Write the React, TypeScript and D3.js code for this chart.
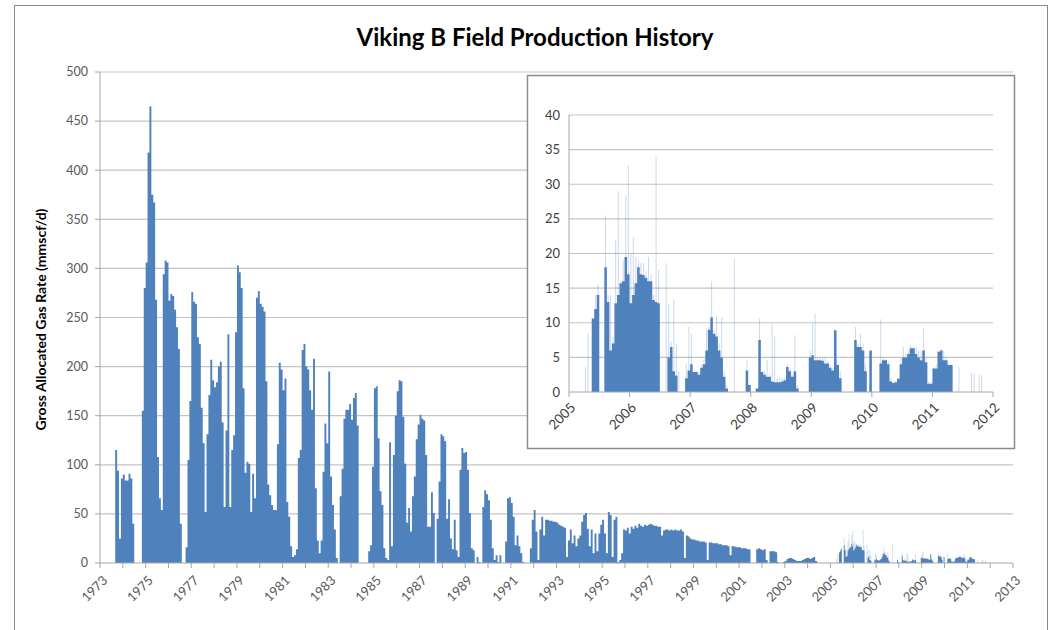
import React, { useEffect } from 'react';
import * as d3 from 'd3';

// ---------- text ----------
const CHART_TITLE = 'Viking B Field Production History';
const Y_AXIS_TITLE = 'Gross Allocated Gas Rate (mmscf/d)';

// ---------- ticks ----------
const mainYTicks = [0, 50, 100, 150, 200, 250, 300, 350, 400, 450, 500];
const mainXTickYears = d3.range(1973, 2014);
const mainXLabelYears = [1973, 1975, 1977, 1979, 1981, 1983, 1985, 1987, 1989, 1991, 1993, 1995, 1997, 1999, 2001, 2003, 2005, 2007, 2009, 2011, 2013];
const insetYTicks = [0, 5, 10, 15, 20, 25, 30, 35, 40];
const insetXLabelYears = [2005, 2006, 2007, 2008, 2009, 2010, 2011, 2012];

// ---------- data ----------
// Monthly gas rate (mmscf/d), Sep 1973 .. Mar 1995
const earlyStartYear = 1973 + 8 / 12;
const earlyMonthlyRates = [
  115, 94, 25, 86, 90, 84, 84, 91, 86, 40,
  0, 0, 0, 0, 155, 280, 306, 418, 465, 375,
  367, 268, 108, 66, 54, 294, 308, 306, 267, 274,
  272, 258, 240, 218, 40, 0, 0, 16, 105, 165,
  276, 266, 264, 230, 223, 158, 122, 52, 131, 171,
  207, 186, 179, 184, 200, 205, 143, 57, 135, 233,
  57, 115, 130, 235, 303, 296, 280, 178, 92, 103,
  101, 52, 91, 66, 270, 277, 264, 261, 256, 185,
  80, 69, 59, 54, 54, 121, 204, 197, 176, 188,
  62, 47, 17, 6, 8, 14, 107, 115, 217, 223,
  200, 197, 176, 156, 208, 76, 23, 10, 23, 93,
  142, 122, 195, 88, 59, 34, 5, 0, 68, 96,
  147, 156, 156, 162, 146, 168, 173, 140, 0, 0,
  0, 0, 0, 12, 18, 98, 178, 180, 127, 73,
  59, 15, 5, 3, 123, 17, 110, 150, 175, 186,
  185, 149, 101, 41, 56, 32, 68, 88, 126, 141,
  151, 147, 145, 110, 37, 37, 72, 51, 0, 45,
  83, 131, 129, 124, 45, 65, 25, 14, 44, 13,
  6, 95, 117, 112, 113, 95, 51, 15, 13, 0,
  6, 1, 0, 57, 74, 70, 64, 44, 15, 3,
  8, 1, 8, 0, 0, 22, 66, 67, 61, 47,
  18, 28, 17, 10, 1, 0, 0, 0, 15, 44,
  54, 32, 3, 34, 47, 28, 44, 44, 43, 43,
  42, 42, 41, 39, 38, 37, 36, 6, 23, 34,
  20, 28, 17, 25, 28, 42, 49, 51, 35, 17,
  34, 10, 30, 12, 30, 39, 44, 30, 10,
];

// Monthly gas rate (mmscf/d), Apr 1995 .. Dec 2004
const lateStartYear = 1995 + 3 / 12;
const lateMonthlyRates = [
  52, 49, 6, 44, 47, 1, 3, 10, 34,
  33, 36, 30, 37, 35, 38, 36, 40, 38, 37, 39, 38,
  39, 40, 39, 38, 38, 37, 37, 28, 33, 34, 34, 33,
  34, 33, 34, 33, 33, 34, 32, 5, 28, 27, 25, 24,
  24, 23, 23, 22, 22, 22, 21, 3, 21, 21, 20, 20,
  20, 19, 19, 18, 18, 18, 17, 8, 17, 17, 16, 16,
  16, 15, 15, 15, 14, 14, 0, 0, 0, 14, 15, 14,
  13, 14, 3, 0, 12, 12, 12, 11, 1, 0, 0, 1,
  2, 4, 5, 5, 4, 3, 2, 2, 2, 3, 4, 5,
  5, 4, 5, 6, 2, 0, 0, 0, 0, 0, 0, 0,
];

// Half-monthly rates 2005 .. 2011: sustained level and the highest daily spike
const halfMonthStartYear = 2005;
const halfMonthBaseRates = [
  0, 0, 0, 0, 0, 0, 0, 0, 0, 10.6, 12, 14, 0, 0, 18, 13, 6, 7, 12.8, 14, 15.7, 16, 19.5, 17,
  12.8, 14, 15.7, 18, 17, 16.9, 16.5, 16, 16, 13.3, 13, 12.8, 0, 0, 0, 5, 6.5, 3, 2.4, 0, 0, 0, 2, 3.1,
  4, 2.9, 2.9, 2.5, 3.5, 4, 6, 9, 10.8, 8.4, 8, 6, 5, 2.2, 0.5, 0, 0, 0, 0, 0, 0, 0, 3.1, 1,
  0, 0, 0.5, 7.5, 2.9, 2.5, 2.2, 2.2, 1.5, 1.4, 1.4, 1.4, 1.5, 1.7, 3.6, 3, 2.2, 3, 0.5, 0, 0, 0, 0, 5,
  5.3, 4.6, 4.6, 4.6, 4.5, 4.1, 4.1, 3.5, 3.1, 8.9, 3.9, 2, 0, 0, 0, 0, 0, 7.5, 6.5, 6.5, 6, 3, 0, 6,
  0, 0, 0, 4.1, 4.6, 4.6, 4, 1.5, 1.3, 1.4, 1.9, 4, 5, 5, 5.5, 6.3, 6.3, 5.5, 5, 4.6, 6, 4.3, 1.2, 1.2,
  3.4, 3.4, 5.8, 6, 4.6, 4.6, 3.9, 3.9, 0, 0, 0, 0, 0, 0, 0, 0, 0, 0, 0, 0, 0, 0, 0, 0,
];
const halfMonthPeakRates = [
  0, 0, 0, 0, 0, 0, 3.6, 8.4, 0, 10.6, 14, 15.5, 0, 0, 25.5, 14, 14, 8, 22, 29, 16, 19, 28.4, 32.8,
  20, 22.4, 19.5, 19, 18.6, 18.6, 17.5, 19.5, 17, 14, 34, 17.6, 0, 0, 18.6, 12.8, 7.2, 13.3, 7, 3, 0, 0, 4, 9.4,
  8.4, 3, 3, 3, 4, 4.8, 9, 9.4, 16, 9, 11, 7, 10.8, 3, 1, 0, 0, 19.3, 0, 0, 0, 0, 4.6, 1,
  0, 0, 0.5, 10.6, 3, 3, 4.6, 2.5, 9.9, 8, 2, 2, 2, 2, 4, 3.5, 2.5, 8.2, 1, 0, 0, 0, 0, 6,
  9.9, 11.3, 5, 5, 5, 5, 4.5, 4, 3.5, 9, 4, 3, 0, 0, 0, 0, 0, 9.4, 7, 8.4, 7, 4, 0, 6,
  0, 0, 0, 10.5, 5, 4.8, 4.5, 2, 1.5, 1.6, 2, 5, 6.5, 5.5, 6, 6.7, 6.5, 6.7, 6, 6, 9.2, 5, 1.5, 1.5,
  3.6, 4, 6, 6.2, 6, 5, 4, 4, 0, 0, 3.6, 0, 0, 0, 0, 2.7, 2.6, 0, 2.4, 2.4, 0, 0, 0, 0,
];

// ---------- layout ----------
const W = 1055;
const H = 630;
const FONT = "Lato, 'Open Sans', 'DejaVu Sans', sans-serif";
const BAR = '#4f81bd';
const GRID = '#c4c4c4';
const AXIS = '#a6a6a6';

const M = { left: 100, right: 1013, top: 72, bottom: 563 };
const I = { boxX: 527.5, boxY: 75.5, boxW: 487, boxH: 373, left: 569, right: 993, top: 115, bottom: 392 };

type Pt = { t: number; v: number };

export default function App() {
  useEffect(() => {
    document.body.style.margin = '0';
  }, []);

  const xMain = d3.scaleLinear().domain([1973, 2013]).range([M.left, M.right]);
  const yMain = d3.scaleLinear().domain([0, 500]).range([M.bottom, M.top]);
  const xIn = d3.scaleLinear().domain([2005, 2012]).range([I.left, I.right]);
  const yIn = d3.scaleLinear().domain([0, 40]).range([I.bottom, I.top]);

  const halfPts: Pt[] = halfMonthBaseRates.map((v, i) => ({ t: halfMonthStartYear + i / 24, v }));
  const endT = halfMonthStartYear + halfMonthBaseRates.length / 24;

  const mainPts: Pt[] = [
    ...earlyMonthlyRates.map((v, i) => ({ t: earlyStartYear + i / 12, v })),
    ...lateMonthlyRates.map((v, i) => ({ t: lateStartYear + i / 12, v })),
    ...halfPts,
    { t: endT, v: 0 },
  ];

  const mainArea = d3
    .area<Pt>()
    .x((d) => xMain(d.t))
    .y0(yMain(0))
    .y1((d) => yMain(d.v))
    .curve(d3.curveStepAfter);

  const insetArea = d3
    .area<Pt>()
    .x((d) => xIn(d.t))
    .y0(yIn(0))
    .y1((d) => yIn(d.v))
    .curve(d3.curveStepAfter);

  const spikes = halfMonthPeakRates
    .map((p, i) => ({ t: halfMonthStartYear + (i + 0.5) / 24, p, b: halfMonthBaseRates[i] }))
    .filter((d) => d.p > d.b);

  return (
    <svg
      width={W}
      height={H}
      style={{ position: 'absolute', left: 0, top: 0, background: '#fff' }}
      fontFamily={FONT}
    >
      <rect x={0} y={0} width={W} height={H} fill="#fff" />
      <rect x={14.5} y={5.5} width={1033} height={660} fill="none" stroke="#8a8a8a" strokeWidth={1} />

      <text x={535} y={46} textAnchor="middle" fontSize={24} fontWeight="bold" fill="#000">
        {CHART_TITLE}
      </text>

      {/* main gridlines */}
      {mainYTicks.filter((t) => t > 0).map((t) => (
        <line key={'g' + t} x1={M.left} x2={M.right} y1={yMain(t)} y2={yMain(t)} stroke={GRID} strokeWidth={1.2} />
      ))}

      {/* main series */}
      <path d={mainArea(mainPts) || ''} fill={BAR} />
      {spikes.map((d, i) => (
        <line key={'ms' + i} x1={xMain(d.t)} x2={xMain(d.t)} y1={yMain(d.b)} y2={yMain(d.p)} stroke={BAR} strokeOpacity={0.3} strokeWidth={0.8} />
      ))}

      {/* main axes */}
      <line x1={M.left} x2={M.left} y1={M.top} y2={M.bottom} stroke={AXIS} />
      <line x1={M.left} x2={M.right} y1={M.bottom} y2={M.bottom} stroke={AXIS} />
      {mainYTicks.map((t) => (
        <g key={'yt' + t}>
          <line x1={M.left - 5} x2={M.left} y1={yMain(t)} y2={yMain(t)} stroke={AXIS} />
          <text x={M.left - 12} y={yMain(t)} dy="0.35em" textAnchor="end" fontSize={12.5} fill="#595959">
            {t}
          </text>
        </g>
      ))}
      {mainXTickYears.map((yr) => (
        <line key={'xt' + yr} x1={xMain(yr)} x2={xMain(yr)} y1={M.bottom} y2={M.bottom + 5} stroke={AXIS} />
      ))}
      {mainXLabelYears.map((yr) => (
        <text
          key={'xl' + yr}
          transform={`translate(${xMain(yr) + 5},${M.bottom + 15}) rotate(-45)`}
          textAnchor="end"
          dy="0.35em"
          fontSize={13}
          fill="#595959"
        >
          {yr}
        </text>
      ))}
      <text
        transform={`translate(46,${(M.top + M.bottom) / 2 + 2}) rotate(-90)`}
        textAnchor="middle"
        fontSize={14}
        fontWeight="bold"
        fill="#000"
      >
        {Y_AXIS_TITLE}
      </text>

      {/* inset */}
      <rect x={I.boxX} y={I.boxY} width={I.boxW} height={I.boxH} fill="#fff" stroke="#8c8c8c" strokeWidth={1.5} />
      {insetYTicks.filter((t) => t > 0).map((t) => (
        <line key={'ig' + t} x1={I.left} x2={I.right} y1={yIn(t)} y2={yIn(t)} stroke={GRID} strokeWidth={1.2} />
      ))}
      <path d={insetArea([...halfPts, { t: endT, v: 0 }]) || ''} fill={BAR} />
      {spikes.map((d, i) => (
        <line key={'is' + i} x1={xIn(d.t)} x2={xIn(d.t)} y1={yIn(d.b)} y2={yIn(d.p)} stroke={BAR} strokeOpacity={0.3} strokeWidth={1} />
      ))}
      <line x1={I.left} x2={I.left} y1={I.top} y2={I.bottom} stroke={AXIS} />
      <line x1={I.left} x2={I.right} y1={I.bottom} y2={I.bottom} stroke={AXIS} />
      {insetYTicks.map((t) => (
        <text key={'iyl' + t} x={I.left - 9} y={yIn(t)} dy="0.35em" textAnchor="end" fontSize={13} fill="#404040">
          {t}
        </text>
      ))}
      {insetXLabelYears.map((yr) => (
        <g key={'ixl' + yr}>
          <line x1={xIn(yr)} x2={xIn(yr)} y1={I.bottom} y2={I.bottom + 5} stroke={AXIS} />
          <text
            transform={`translate(${xIn(yr) + 4},${I.bottom + 13}) rotate(-45)`}
            textAnchor="end"
            dy="0.35em"
            fontSize={13.5}
            fill="#404040"
          >
            {yr}
          </text>
        </g>
      ))}
    </svg>
  );
}
